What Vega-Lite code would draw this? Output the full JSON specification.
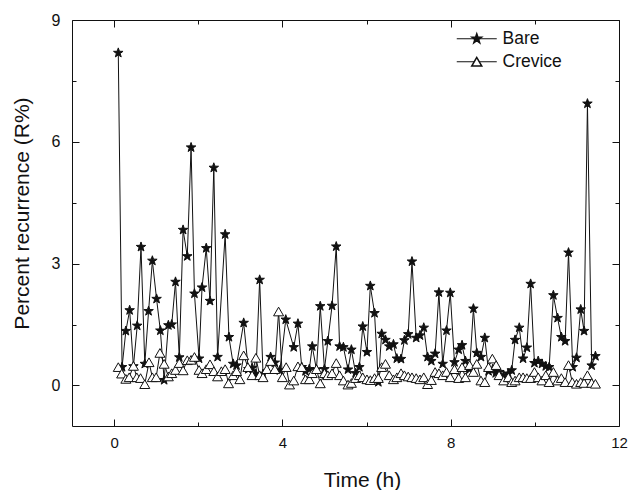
{
  "$schema": "https://vega.github.io/schema/vega-lite/v6.json",
  "width": 547,
  "height": 406,
  "autosize": "none",
  "padding": {"left": 72, "top": 20, "right": 9, "bottom": 64},
  "background": "white",
  "config": {
    "view": {"stroke": "#111", "strokeWidth": 1},
    "font": "Liberation Sans"
  },
  "data": {
    "values": [
      {"t": 0.10, "v": 8.19, "s": "Bare"}, {"t": 0.19, "v": 0.45, "s": "Bare"}, {"t": 0.28, "v": 1.34, "s": "Bare"}, {"t": 0.37, "v": 1.85, "s": "Bare"},
      {"t": 0.46, "v": 0.47, "s": "Bare"}, {"t": 0.55, "v": 1.47, "s": "Bare"}, {"t": 0.64, "v": 3.41, "s": "Bare"}, {"t": 0.73, "v": 0.53, "s": "Bare"},
      {"t": 0.82, "v": 1.83, "s": "Bare"}, {"t": 0.91, "v": 3.07, "s": "Bare"}, {"t": 1.01, "v": 2.13, "s": "Bare"}, {"t": 1.10, "v": 1.35, "s": "Bare"},
      {"t": 1.19, "v": 0.13, "s": "Bare"}, {"t": 1.29, "v": 1.48, "s": "Bare"}, {"t": 1.37, "v": 1.50, "s": "Bare"}, {"t": 1.46, "v": 2.55, "s": "Bare"},
      {"t": 1.55, "v": 0.69, "s": "Bare"}, {"t": 1.64, "v": 3.83, "s": "Bare"}, {"t": 1.74, "v": 3.18, "s": "Bare"}, {"t": 1.83, "v": 5.86, "s": "Bare"},
      {"t": 1.91, "v": 2.26, "s": "Bare"}, {"t": 2.02, "v": 0.66, "s": "Bare"}, {"t": 2.09, "v": 2.41, "s": "Bare"}, {"t": 2.19, "v": 3.38, "s": "Bare"},
      {"t": 2.28, "v": 2.08, "s": "Bare"}, {"t": 2.37, "v": 5.36, "s": "Bare"}, {"t": 2.46, "v": 0.70, "s": "Bare"}, {"t": 2.64, "v": 3.72, "s": "Bare"},
      {"t": 2.73, "v": 1.19, "s": "Bare"}, {"t": 2.83, "v": 0.53, "s": "Bare"}, {"t": 2.91, "v": 0.49, "s": "Bare"}, {"t": 3.08, "v": 1.54, "s": "Bare"},
      {"t": 3.19, "v": 0.40, "s": "Bare"}, {"t": 3.28, "v": 0.43, "s": "Bare"}, {"t": 3.37, "v": 0.28, "s": "Bare"}, {"t": 3.46, "v": 2.60, "s": "Bare"},
      {"t": 3.54, "v": 0.28, "s": "Bare"}, {"t": 3.72, "v": 0.70, "s": "Bare"}, {"t": 3.82, "v": 0.56, "s": "Bare"}, {"t": 3.94, "v": 0.37, "s": "Bare"},
      {"t": 4.08, "v": 1.62, "s": "Bare"}, {"t": 4.27, "v": 0.94, "s": "Bare"}, {"t": 4.37, "v": 1.52, "s": "Bare"}, {"t": 4.46, "v": 0.45, "s": "Bare"},
      {"t": 4.55, "v": 0.35, "s": "Bare"}, {"t": 4.64, "v": 0.40, "s": "Bare"}, {"t": 4.71, "v": 0.96, "s": "Bare"}, {"t": 4.81, "v": 0.39, "s": "Bare"},
      {"t": 4.90, "v": 1.95, "s": "Bare"}, {"t": 5.00, "v": 0.40, "s": "Bare"}, {"t": 5.08, "v": 1.09, "s": "Bare"}, {"t": 5.18, "v": 1.96, "s": "Bare"},
      {"t": 5.28, "v": 3.42, "s": "Bare"}, {"t": 5.36, "v": 0.96, "s": "Bare"}, {"t": 5.45, "v": 0.94, "s": "Bare"}, {"t": 5.56, "v": 0.39, "s": "Bare"},
      {"t": 5.64, "v": 0.88, "s": "Bare"}, {"t": 5.74, "v": 0.30, "s": "Bare"}, {"t": 5.83, "v": 0.45, "s": "Bare"}, {"t": 5.91, "v": 1.45, "s": "Bare"},
      {"t": 6.01, "v": 0.82, "s": "Bare"}, {"t": 6.09, "v": 2.45, "s": "Bare"}, {"t": 6.19, "v": 1.78, "s": "Bare"}, {"t": 6.28, "v": 0.08, "s": "Bare"},
      {"t": 6.36, "v": 1.27, "s": "Bare"}, {"t": 6.45, "v": 1.12, "s": "Bare"}, {"t": 6.54, "v": 0.96, "s": "Bare"}, {"t": 6.64, "v": 1.01, "s": "Bare"},
      {"t": 6.72, "v": 0.66, "s": "Bare"}, {"t": 6.82, "v": 0.65, "s": "Bare"}, {"t": 6.90, "v": 1.11, "s": "Bare"}, {"t": 6.99, "v": 1.26, "s": "Bare"},
      {"t": 7.08, "v": 3.05, "s": "Bare"}, {"t": 7.18, "v": 1.17, "s": "Bare"}, {"t": 7.27, "v": 1.23, "s": "Bare"}, {"t": 7.36, "v": 1.42, "s": "Bare"},
      {"t": 7.45, "v": 0.70, "s": "Bare"}, {"t": 7.54, "v": 0.60, "s": "Bare"}, {"t": 7.63, "v": 0.78, "s": "Bare"}, {"t": 7.72, "v": 2.29, "s": "Bare"},
      {"t": 7.81, "v": 0.53, "s": "Bare"}, {"t": 7.90, "v": 1.35, "s": "Bare"}, {"t": 7.99, "v": 2.28, "s": "Bare"}, {"t": 8.09, "v": 0.57, "s": "Bare"},
      {"t": 8.19, "v": 0.88, "s": "Bare"}, {"t": 8.27, "v": 0.99, "s": "Bare"}, {"t": 8.35, "v": 0.60, "s": "Bare"}, {"t": 8.45, "v": 0.40, "s": "Bare"},
      {"t": 8.54, "v": 1.89, "s": "Bare"}, {"t": 8.62, "v": 0.80, "s": "Bare"}, {"t": 8.72, "v": 0.70, "s": "Bare"}, {"t": 8.81, "v": 1.17, "s": "Bare"},
      {"t": 8.90, "v": 0.35, "s": "Bare"}, {"t": 9.00, "v": 0.40, "s": "Bare"}, {"t": 9.07, "v": 0.30, "s": "Bare"}, {"t": 9.15, "v": 0.33, "s": "Bare"},
      {"t": 9.26, "v": 0.25, "s": "Bare"}, {"t": 9.37, "v": 0.29, "s": "Bare"}, {"t": 9.45, "v": 0.37, "s": "Bare"}, {"t": 9.53, "v": 1.12, "s": "Bare"},
      {"t": 9.63, "v": 1.42, "s": "Bare"}, {"t": 9.72, "v": 0.66, "s": "Bare"}, {"t": 9.81, "v": 0.93, "s": "Bare"}, {"t": 9.90, "v": 2.50, "s": "Bare"},
      {"t": 9.99, "v": 0.55, "s": "Bare"}, {"t": 10.08, "v": 0.60, "s": "Bare"}, {"t": 10.17, "v": 0.53, "s": "Bare"}, {"t": 10.26, "v": 0.47, "s": "Bare"},
      {"t": 10.34, "v": 0.45, "s": "Bare"}, {"t": 10.44, "v": 2.22, "s": "Bare"}, {"t": 10.54, "v": 1.66, "s": "Bare"}, {"t": 10.63, "v": 1.19, "s": "Bare"},
      {"t": 10.72, "v": 1.09, "s": "Bare"}, {"t": 10.80, "v": 3.27, "s": "Bare"}, {"t": 10.90, "v": 0.45, "s": "Bare"}, {"t": 10.99, "v": 0.68, "s": "Bare"},
      {"t": 11.09, "v": 1.87, "s": "Bare"}, {"t": 11.17, "v": 1.34, "s": "Bare"}, {"t": 11.25, "v": 6.94, "s": "Bare"}, {"t": 11.35, "v": 0.49, "s": "Bare"},
      {"t": 11.44, "v": 0.72, "s": "Bare"},
      {"t": 0.10, "v": 0.45, "s": "Crevice"}, {"t": 0.18, "v": 0.29, "s": "Crevice"}, {"t": 0.28, "v": 0.16, "s": "Crevice"}, {"t": 0.36, "v": 0.20, "s": "Crevice"},
      {"t": 0.46, "v": 0.48, "s": "Crevice"}, {"t": 0.54, "v": 0.20, "s": "Crevice"}, {"t": 0.63, "v": 0.18, "s": "Crevice"}, {"t": 0.73, "v": 0.03, "s": "Crevice"},
      {"t": 0.83, "v": 0.57, "s": "Crevice"}, {"t": 0.91, "v": 0.20, "s": "Crevice"}, {"t": 1.00, "v": 0.20, "s": "Crevice"}, {"t": 1.09, "v": 0.80, "s": "Crevice"},
      {"t": 1.19, "v": 0.53, "s": "Crevice"}, {"t": 1.29, "v": 0.22, "s": "Crevice"}, {"t": 1.37, "v": 0.30, "s": "Crevice"}, {"t": 1.46, "v": 0.38, "s": "Crevice"},
      {"t": 1.55, "v": 0.55, "s": "Crevice"}, {"t": 1.64, "v": 0.37, "s": "Crevice"}, {"t": 1.74, "v": 0.62, "s": "Crevice"}, {"t": 1.83, "v": 0.63, "s": "Crevice"},
      {"t": 1.91, "v": 0.70, "s": "Crevice"}, {"t": 2.02, "v": 0.38, "s": "Crevice"}, {"t": 2.09, "v": 0.30, "s": "Crevice"}, {"t": 2.19, "v": 0.40, "s": "Crevice"},
      {"t": 2.28, "v": 0.52, "s": "Crevice"}, {"t": 2.37, "v": 0.35, "s": "Crevice"}, {"t": 2.46, "v": 0.22, "s": "Crevice"}, {"t": 2.55, "v": 0.35, "s": "Crevice"},
      {"t": 2.64, "v": 0.40, "s": "Crevice"}, {"t": 2.72, "v": 0.05, "s": "Crevice"}, {"t": 2.83, "v": 0.25, "s": "Crevice"}, {"t": 2.91, "v": 0.35, "s": "Crevice"},
      {"t": 2.99, "v": 0.15, "s": "Crevice"}, {"t": 3.08, "v": 0.74, "s": "Crevice"}, {"t": 3.18, "v": 0.45, "s": "Crevice"}, {"t": 3.28, "v": 0.25, "s": "Crevice"},
      {"t": 3.37, "v": 0.68, "s": "Crevice"}, {"t": 3.46, "v": 0.25, "s": "Crevice"}, {"t": 3.54, "v": 0.20, "s": "Crevice"}, {"t": 3.63, "v": 0.40, "s": "Crevice"},
      {"t": 3.72, "v": 0.60, "s": "Crevice"}, {"t": 3.82, "v": 0.40, "s": "Crevice"}, {"t": 3.91, "v": 1.82, "s": "Crevice"}, {"t": 4.00, "v": 0.20, "s": "Crevice"},
      {"t": 4.09, "v": 0.45, "s": "Crevice"}, {"t": 4.17, "v": 0.02, "s": "Crevice"}, {"t": 4.27, "v": 0.12, "s": "Crevice"}, {"t": 4.37, "v": 0.47, "s": "Crevice"},
      {"t": 4.46, "v": 0.45, "s": "Crevice"}, {"t": 4.55, "v": 0.15, "s": "Crevice"}, {"t": 4.64, "v": 0.15, "s": "Crevice"}, {"t": 4.71, "v": 0.30, "s": "Crevice"},
      {"t": 4.81, "v": 0.40, "s": "Crevice"}, {"t": 4.90, "v": 0.05, "s": "Crevice"}, {"t": 5.00, "v": 0.30, "s": "Crevice"}, {"t": 5.08, "v": 0.25, "s": "Crevice"},
      {"t": 5.18, "v": 0.30, "s": "Crevice"}, {"t": 5.28, "v": 0.55, "s": "Crevice"}, {"t": 5.36, "v": 0.25, "s": "Crevice"}, {"t": 5.45, "v": 0.12, "s": "Crevice"},
      {"t": 5.56, "v": 0.02, "s": "Crevice"}, {"t": 5.64, "v": 0.06, "s": "Crevice"}, {"t": 5.74, "v": 0.18, "s": "Crevice"}, {"t": 5.83, "v": 0.25, "s": "Crevice"},
      {"t": 5.91, "v": 0.20, "s": "Crevice"}, {"t": 6.01, "v": 0.15, "s": "Crevice"}, {"t": 6.09, "v": 0.13, "s": "Crevice"}, {"t": 6.19, "v": 0.18, "s": "Crevice"},
      {"t": 6.28, "v": 0.18, "s": "Crevice"}, {"t": 6.36, "v": 0.45, "s": "Crevice"}, {"t": 6.45, "v": 0.53, "s": "Crevice"}, {"t": 6.54, "v": 0.25, "s": "Crevice"},
      {"t": 6.64, "v": 0.15, "s": "Crevice"}, {"t": 6.72, "v": 0.20, "s": "Crevice"}, {"t": 6.82, "v": 0.30, "s": "Crevice"}, {"t": 6.90, "v": 0.25, "s": "Crevice"},
      {"t": 6.99, "v": 0.22, "s": "Crevice"}, {"t": 7.08, "v": 0.20, "s": "Crevice"}, {"t": 7.18, "v": 0.18, "s": "Crevice"}, {"t": 7.27, "v": 0.15, "s": "Crevice"},
      {"t": 7.36, "v": 0.20, "s": "Crevice"}, {"t": 7.45, "v": 0.03, "s": "Crevice"}, {"t": 7.54, "v": 0.13, "s": "Crevice"}, {"t": 7.63, "v": 0.33, "s": "Crevice"},
      {"t": 7.72, "v": 0.30, "s": "Crevice"}, {"t": 7.81, "v": 0.25, "s": "Crevice"}, {"t": 7.90, "v": 0.33, "s": "Crevice"}, {"t": 7.99, "v": 0.20, "s": "Crevice"},
      {"t": 8.09, "v": 0.40, "s": "Crevice"}, {"t": 8.19, "v": 0.18, "s": "Crevice"}, {"t": 8.27, "v": 0.45, "s": "Crevice"}, {"t": 8.35, "v": 0.20, "s": "Crevice"},
      {"t": 8.45, "v": 0.50, "s": "Crevice"}, {"t": 8.54, "v": 0.33, "s": "Crevice"}, {"t": 8.62, "v": 0.53, "s": "Crevice"}, {"t": 8.72, "v": 0.12, "s": "Crevice"},
      {"t": 8.81, "v": 0.08, "s": "Crevice"}, {"t": 8.90, "v": 0.45, "s": "Crevice"}, {"t": 8.99, "v": 0.66, "s": "Crevice"}, {"t": 9.08, "v": 0.50, "s": "Crevice"},
      {"t": 9.15, "v": 0.25, "s": "Crevice"}, {"t": 9.26, "v": 0.12, "s": "Crevice"}, {"t": 9.37, "v": 0.20, "s": "Crevice"}, {"t": 9.45, "v": 0.08, "s": "Crevice"},
      {"t": 9.53, "v": 0.12, "s": "Crevice"}, {"t": 9.63, "v": 0.20, "s": "Crevice"}, {"t": 9.72, "v": 0.20, "s": "Crevice"}, {"t": 9.81, "v": 0.18, "s": "Crevice"},
      {"t": 9.90, "v": 0.18, "s": "Crevice"}, {"t": 9.99, "v": 0.33, "s": "Crevice"}, {"t": 10.08, "v": 0.20, "s": "Crevice"}, {"t": 10.17, "v": 0.12, "s": "Crevice"},
      {"t": 10.26, "v": 0.25, "s": "Crevice"}, {"t": 10.34, "v": 0.08, "s": "Crevice"}, {"t": 10.44, "v": 0.33, "s": "Crevice"}, {"t": 10.54, "v": 0.12, "s": "Crevice"},
      {"t": 10.63, "v": 0.18, "s": "Crevice"}, {"t": 10.72, "v": 0.08, "s": "Crevice"}, {"t": 10.80, "v": 0.50, "s": "Crevice"}, {"t": 10.89, "v": 0.08, "s": "Crevice"},
      {"t": 10.99, "v": 0.04, "s": "Crevice"}, {"t": 11.09, "v": 0.08, "s": "Crevice"}, {"t": 11.17, "v": 0.06, "s": "Crevice"}, {"t": 11.25, "v": 0.25, "s": "Crevice"},
      {"t": 11.35, "v": 0.06, "s": "Crevice"}, {"t": 11.44, "v": 0.04, "s": "Crevice"}
    ]
  },
  "layer": [
    {
      "mark": {"type": "line", "strokeWidth": 1},
      "encoding": {
        "x": {
          "field": "t", "type": "quantitative",
          "scale": {"domain": [-1, 12], "nice": false, "zero": false},
          "axis": {
            "orient": "bottom",
            "values": [0, 2, 4, 6, 8, 10, 12],
            "labelExpr": "datum.value % 4 === 0 ? datum.label : ''",
            "tickSize": {"condition": {"test": "datum.value % 4 === 0", "value": -7}, "value": -4},
            "tickColor": "#111",
            "domain": false, "grid": false,
            "labelFlush": false,
            "labelFont": "Liberation Sans", "labelFontSize": 15, "labelColor": "#111",
            "labelPadding": 16,
            "title": "Time (h)",
            "titleFont": "Liberation Sans", "titleFontSize": 21, "titleFontWeight": "normal", "titleColor": "#111",
            "titleX": 290, "titleY": 60, "titleAlign": "center", "titleBaseline": "alphabetic"
          }
        },
        "y": {
          "field": "v", "type": "quantitative",
          "scale": {"domain": [-1, 9], "nice": false, "zero": false},
          "axis": {
            "orient": "left",
            "values": [0, 1.5, 3, 4.5, 6, 7.5, 9],
            "labelExpr": "datum.value % 3 === 0 ? datum.label : ''",
            "tickSize": {"condition": {"test": "datum.value % 3 === 0", "value": -7}, "value": -4},
            "tickColor": "#111",
            "domain": false, "grid": false,
            "labelFlush": false,
            "labelFont": "Liberation Sans", "labelFontSize": 16, "labelColor": "#111",
            "labelPadding": 19,
            "title": "Percent recurrence (R%)",
            "titleFont": "Liberation Sans", "titleFontSize": 21, "titleFontWeight": "normal", "titleColor": "#111",
            "titleX": -50, "titleY": 193, "titleAlign": "center", "titleBaseline": "middle", "titleAngle": -90
          }
        },
        "stroke": {
          "field": "s", "type": "nominal",
          "scale": {"range": ["#111", "#111"]},
          "legend": {
            "orient": "none", "legendX": 396, "legendY": 10,
            "title": null, "padding": 0,
            "labelFont": "Liberation Sans", "labelFontSize": 17.5, "labelOpacity": 0,
            "labelOffset": 17, "rowPadding": 4, "symbolSize": 100,
            "symbolType": "M-4,0L-0.5,0M0.5,0L4,0",
            "symbolStrokeWidth": 1, "symbolFillColor": "transparent"
          }
        }
      }
    },
    {
      "mark": {"type": "point", "filled": true, "opacity": 1, "stroke": "#111", "strokeWidth": 1, "size": 100},
      "encoding": {
        "x": {
          "field": "t", "type": "quantitative",
          "axis": {
            "orient": "top",
            "values": [0, 2, 4, 6, 8, 10, 12],
            "labels": false, "title": null, "domain": false, "grid": false,
            "tickColor": "#111",
            "tickSize": {"condition": {"test": "datum.value % 4 === 0", "value": -7}, "value": -4}
          }
        },
        "y": {
          "field": "v", "type": "quantitative",
          "axis": {
            "orient": "right",
            "values": [0, 1.5, 3, 4.5, 6, 7.5, 9],
            "labels": false, "title": null, "domain": false, "grid": false,
            "tickColor": "#111",
            "tickSize": {"condition": {"test": "datum.value % 3 === 0", "value": -7}, "value": -4}
          }
        },
        "shape": {
          "field": "s", "type": "nominal",
          "scale": {"domain": ["Bare", "Crevice"], "range": ["M0,-1L0.235,-0.324L0.951,-0.309L0.38,0.124L0.588,0.809L0,0.4L-0.588,0.809L-0.38,0.124L-0.951,-0.309L-0.235,-0.324Z", "triangle-up"]},
          "legend": {
            "orient": "none", "legendX": 396, "legendY": 10,
            "title": null, "padding": 0,
            "labelFont": "Liberation Sans", "labelFontSize": 17.5, "labelColor": "#111",
            "labelOffset": 17, "rowPadding": 4, "symbolSize": 100
          }
        },
        "fill": {
          "field": "s", "type": "nominal",
          "scale": {"domain": ["Bare", "Crevice"], "range": ["#111", "white"]},
          "legend": null
        }
      }
    }
  ],
  "resolve": {"axis": {"x": "independent", "y": "independent"}}
}
